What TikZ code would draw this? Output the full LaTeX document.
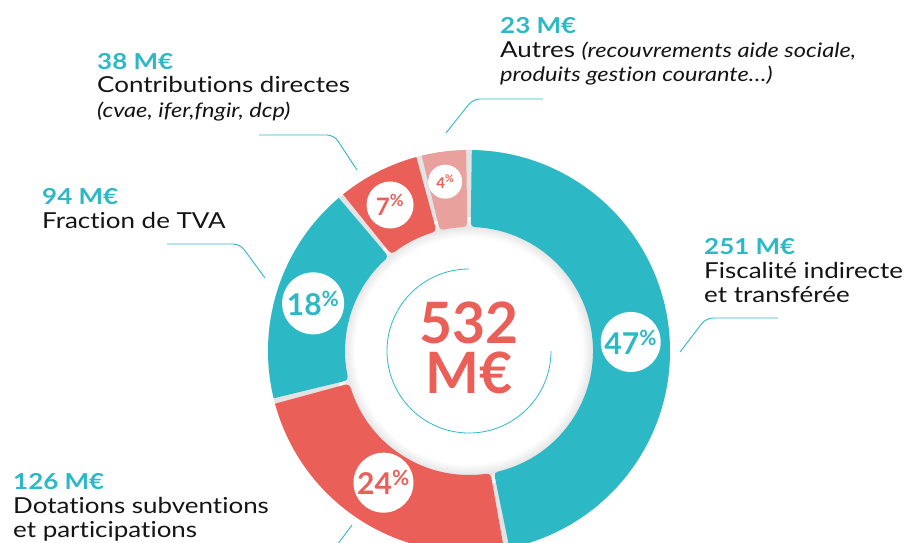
\documentclass[tikz,border=0pt]{standalone}
\usepackage{fontspec}
\setmainfont{Lato}[FakeStretch=1.18, Ligatures=NoCommon]
\newfontfamily\numfont{Lato}
\definecolor{aqua}{RGB}{45,184,198}
\definecolor{coral}{RGB}{234,96,89}
\definecolor{blush}{RGB}{233,161,158}
\definecolor{ink}{RGB}{20,20,20}
\newcommand{\pcnt}[1]{#1\textsuperscript{\%}}

\begin{document}
\begin{tikzpicture}[x=1pt, y=1pt,
  lab/.style={anchor=base west, inner sep=0pt, text=ink, font=\fontsize{22}{24}\selectfont},
  note/.style={lab, font=\fontsize{20}{24}\selectfont\itshape},
  amt/.style={lab, text=aqua, font=\fontsize{22}{24}\selectfont\bfseries},
  lead/.style={aqua, line width=0.9pt, rounded corners=7pt},
  pct/.style={circle, fill=white, inner sep=0pt},
  total/.style={inner sep=0pt, align=center, text=coral, font=\numfont\fontsize{57}{50}\selectfont\bfseries}
]

\useasboundingbox (0,0) rectangle (906,-542);
\clip (0,0) rectangle (906,-542);

% Donut, centred on the total
\begin{scope}[shift={(469,-351)}]
  % soft shadow round the hole
  \foreach \i in {1,...,8} {
    \draw[black, opacity=0.01, line width=2.5*\i] (0,0) circle (124);
  }
  \fill[gray!22, even odd rule] (0,0) circle (201) circle (134);

  % segments: start angle / end angle / colour (clockwise from the top)
  \foreach \a/\b/\c in {90/-79.2/aqua, -79.2/-165.6/coral, -165.6/-230.4/aqua,
                        -230.4/-255.6/coral, -255.6/-270/blush} {
    \pgfmathsetmacro\sa{\a-0.8}
    \pgfmathsetmacro\sb{\b+0.8}
    \pgfmathsetmacro\ta{\sa-4.2}
    \pgfmathsetmacro\tb{\sb+4.2}
    \fill[\c] (\sa:201) arc[start angle=\sa, end angle=\sb, radius=201]
      -- (\sb:133) .. controls (\sb:124) .. (\tb:124)
      arc[start angle=\tb, end angle=\ta, radius=124]
      .. controls (\sa:124) .. (\sa:133) -- cycle;
  }

  % thin arc round the total
  \draw[aqua, line width=0.8pt] (90:82) arc[start angle=90, end angle=360, radius=82];

  \node[total] (tot) at (0,3.5) {532\\M€};

  % percentages
  \node[pct, minimum size=60, text=aqua, font=\numfont\fontsize{30}{30}\selectfont\bfseries] (p47) at (3.2:162) {\pcnt{47}};
  \node[pct, minimum size=60, text=coral, font=\numfont\fontsize{30}{30}\selectfont\bfseries] (p24) at (-123:157) {\pcnt{24}};
  \node[pct, minimum size=62, text=aqua, font=\numfont\fontsize{30}{30}\selectfont\bfseries] (p18) at (163:163) {\pcnt{18}};
  \node[pct, minimum size=47, text=coral, font=\numfont\fontsize{24}{24}\selectfont\bfseries] (p7) at (118.4:166) {\pcnt{7}};
  \node[pct, minimum size=34, text=coral, font=\numfont\fontsize{15}{15}\selectfont\bfseries] (p4) at (98:171) {\pcnt{4}};
\end{scope}

% Labels
\node[amt] (amt38) at (97,-69) {38 M€};
\node[lab] (dir1) at (97,-92) {Contributions directes};
\node[note] (dir2) at (97,-117) {(cvae, ifer,fngir, dcp)};

\node[amt] (amt94) at (42,-204) {94 M€};
\node[lab] (tva) at (42,-228) {Fraction de TVA};

\node[amt] (amt23) at (500,-33) {23 M€};
\node[lab] (aut1) at (500,-57) {Autres {\fontsize{20}{24}\selectfont\itshape (recouvrements aide sociale,}};
\node[note] (aut2) at (500,-81) {produits gestion courante…)};

\node[amt] (amt251) at (704,-254) {251 M€};
\node[lab] (fis1) at (704,-278) {Fiscalité indirecte};
\node[lab] (fis2) at (704,-302) {et transférée};

\node[amt] (amt126) at (13,-489) {126 M€};
\node[lab] (dot1) at (13,-513) {Dotations subventions};
\node[lab] (dot2) at (13,-537) {et participations};

% Leader lines
\coordinate (l38a) at (259,-135);
\coordinate (l38b) at (334,-135);
\coordinate (l38c) at (357,-170);
\draw[lead] (l38a) -- (l38b) -- (l38c);

\coordinate (l94a) at (167,-244);
\coordinate (l94b) at (240,-244);
\coordinate (l94c) at (265,-278);
\draw[lead] (l94a) -- (l94b) -- (l94c);

\coordinate (l23a) at (543,-99);
\coordinate (l23b) at (473,-99);
\coordinate (l23c) at (446,-133);
\draw[lead] (l23a) -- (l23b) -- (l23c);

\coordinate (l251a) at (778,-318);
\coordinate (l251b) at (706,-318);
\coordinate (l251c) at (680,-352);
\draw[lead] (l251a) -- (l251b) -- (l251c);

\coordinate (l126a) at (352,-525);
\coordinate (l126b) at (334,-549);
\draw[lead] (l126a) -- (l126b);

\end{tikzpicture}
\end{document}
